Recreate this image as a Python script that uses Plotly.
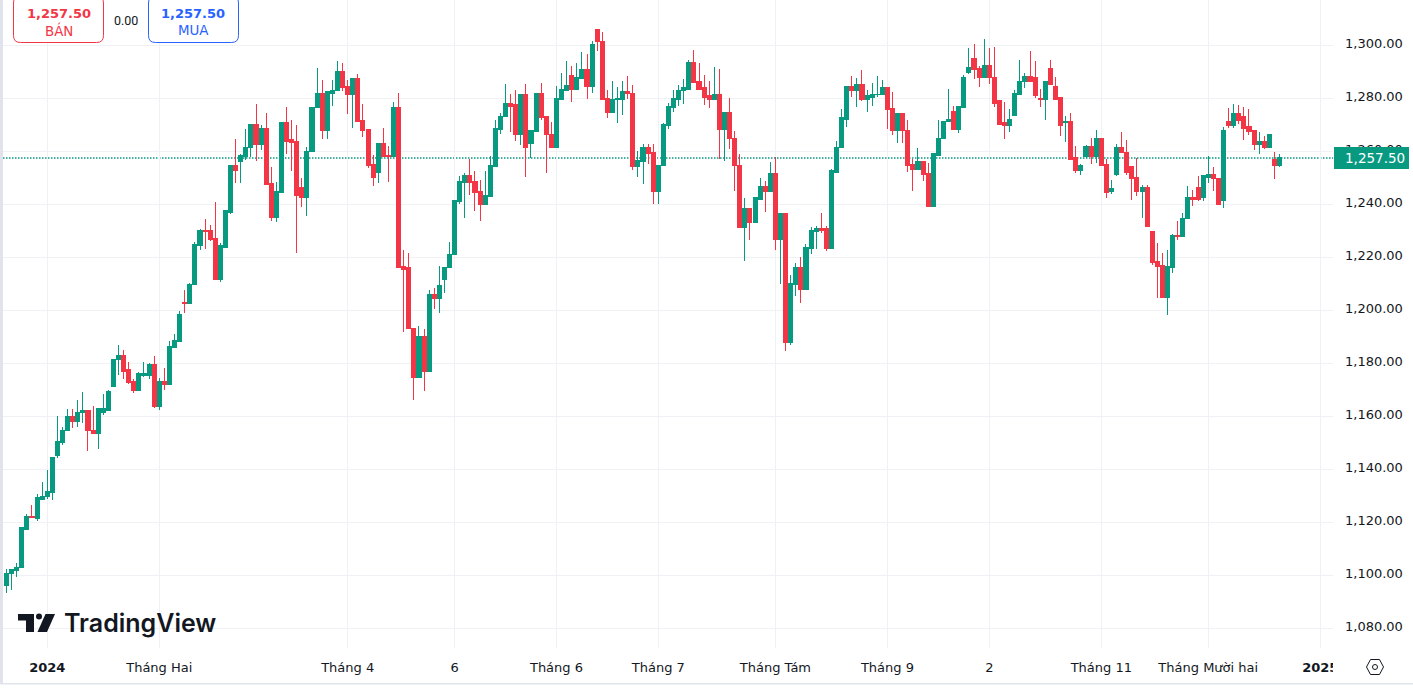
import plotly.graph_objects as go

# ---------- values ----------
OPEN = [
1096.1,1100.6,1102.0,1102.8,1117.5,1122.4,1121.6,1128.8,1129.6,1131.4,
1145.4,1150.3,1154.5,1160.1,1158.2,1161.3,1162.4,1154.8,1153.7,1161.6,
1162.4,1171.1,1181.3,1183.1,1177.5,1173.0,1169.9,1175.6,1175.6,1179.7,
1163.9,1173.3,1172.2,1185.8,1188.4,1203.1,1202.4,1209.6,1224.6,1230.3,
1230.3,1227.3,1211.8,1223.9,1237.1,1254.8,1256.3,1258.2,1261.3,1270.3,
1262.4,1268.8,1247.7,1235.2,1244.6,1270.7,1264.3,1263.9,1246.5,1242.4,
1259.8,1276.4,1282.0,1267.7,1282.0,1282.8,1290.3,1284.3,1281.3,1287.3,
1271.8,1268.4,1255.2,1252.2,1263.1,1258.6,1257.9,1276.7,1216.7,1216.0,
1193.3,1174.5,1190.3,1177.1,1205.8,1204.6,1211.8,1216.0,1220.9,1241.2,
1248.4,1250.7,1248.8,1245.0,1240.1,1243.1,1254.1,1268.4,1273.0,1277.9,
1277.5,1266.5,1281.3,1263.1,1267.3,1282.0,1273.0,1266.5,1261.6,1279.7,
1283.1,1288.8,1283.5,1287.3,1290.7,1284.3,1305.8,1301.6,1280.1,1274.5,
1279.7,1279.7,1282.4,1282.0,1254.1,1256.3,1261.3,1259.4,1245.0,1254.5,
1269.6,1276.7,1279.7,1282.8,1283.5,1293.7,1286.2,1283.9,1280.9,1279.7,
1281.3,1268.4,1274.5,1265.0,1254.8,1231.4,1238.6,1233.0,1242.0,1246.9,
1245.0,1251.8,1226.9,1236.7,1187.7,1209.9,1216.0,1208.0,1223.5,1229.6,
1230.7,1230.7,1223.5,1252.2,1261.3,1272.2,1284.3,1282.8,1285.4,1279.7,
1280.5,1281.3,1281.3,1283.9,1276.0,1268.0,1274.1,1268.0,1255.2,1253.0,
1256.3,1251.8,1239.0,1258.6,1264.7,1271.1,1275.2,1268.4,1276.7,1289.9,
1295.2,1291.1,1287.7,1292.2,1288.0,1279.0,1270.7,1269.6,1273.7,1281.6,
1286.2,1288.4,1288.0,1280.1,1279.4,1291.4,1284.3,1280.5,1270.7,1271.4,
1257.5,1252.6,1257.9,1262.0,1258.2,1264.7,1255.2,1244.7,1251.1,1261.6,
1259.7,1254.1,1250.3,1244.7,1246.2,1229.6,1218.6,1217.1,1205.0,1216.3,
1228.4,1228.0,1234.5,1242.4,1246.5,1242.4,1250.3,1251.4,1249.9,1241.6,
1271.1,1269.9,1274.1,1273.3,1269.2,1267.7,1262.4,1263.9,1261.6,1257.1,
1254.5]
HIGH = [
1102.4,1102.4,1104.5,1118.2,1123.1,1126.5,1130.7,1135.2,1139.7,1144.3,
1160.1,1156.0,1162.8,1162.8,1166.2,1169.2,1162.4,1163.9,1163.1,1168.4,
1169.9,1181.6,1186.9,1185.0,1180.5,1174.1,1176.7,1180.5,1180.1,1182.8,
1174.5,1178.2,1188.4,1191.1,1199.7,1207.7,1210.3,1225.8,1230.7,1234.5,
1232.2,1240.9,1225.4,1237.9,1254.8,1264.7,1259.0,1268.4,1270.3,1277.9,
1270.0,1274.5,1254.1,1248.4,1270.7,1276.7,1271.8,1270.0,1250.0,1261.6,
1276.7,1291.4,1286.9,1282.8,1286.9,1294.1,1293.3,1286.9,1287.3,1289.2,
1277.9,1268.4,1258.6,1263.1,1268.8,1262.0,1278.6,1282.0,1222.8,1221.6,
1193.3,1194.1,1193.0,1207.7,1208.4,1216.7,1216.3,1225.8,1241.6,1250.7,
1251.8,1257.1,1252.6,1249.2,1252.6,1258.2,1271.8,1274.5,1285.4,1281.6,
1283.1,1281.3,1285.4,1267.7,1282.0,1285.8,1273.0,1271.1,1284.7,1289.6,
1294.1,1292.2,1293.3,1297.5,1296.7,1301.6,1306.2,1305.0,1283.1,1286.5,
1284.3,1286.5,1288.4,1285.0,1260.1,1262.8,1262.8,1262.8,1254.8,1270.7,
1278.2,1283.1,1285.0,1287.3,1294.5,1298.2,1293.3,1288.8,1286.5,1291.8,
1291.1,1274.8,1280.1,1267.7,1259.0,1242.4,1238.6,1242.4,1250.0,1248.8,
1256.0,1257.9,1236.7,1236.7,1213.3,1217.9,1220.1,1225.0,1231.4,1231.8,
1236.7,1231.8,1253.3,1263.9,1276.0,1284.3,1288.4,1287.7,1290.7,1283.1,
1285.8,1288.4,1286.9,1283.9,1282.4,1274.5,1274.1,1271.8,1257.1,1261.3,
1256.3,1255.6,1259.0,1271.8,1271.4,1283.5,1277.1,1277.1,1288.8,1299.0,
1300.5,1292.2,1302.4,1299.0,1299.4,1279.4,1278.6,1276.0,1283.1,1294.5,
1289.6,1297.9,1294.1,1283.5,1286.5,1294.5,1288.0,1280.5,1273.3,1274.5,
1262.0,1255.2,1262.4,1265.0,1268.0,1264.7,1257.1,1249.2,1262.8,1267.3,
1264.3,1254.1,1257.5,1247.3,1247.3,1229.6,1225.4,1221.6,1222.8,1228.8,
1233.7,1236.7,1246.9,1245.4,1250.7,1251.1,1258.2,1254.1,1249.9,1269.2,
1276.4,1277.9,1277.5,1276.7,1276.0,1267.7,1267.3,1265.8,1266.5,1259.7,
1259.0]
LOW = [
1093.4,1094.5,1099.4,1102.8,1117.5,1122.0,1120.5,1128.8,1128.8,1128.4,
1144.3,1149.2,1154.5,1155.6,1156.0,1157.5,1146.9,1153.7,1147.7,1160.5,
1162.4,1171.1,1175.6,1174.1,1172.2,1168.8,1169.9,1174.8,1174.1,1163.1,
1162.4,1169.9,1172.2,1185.8,1188.4,1199.0,1202.4,1209.6,1222.8,1223.1,
1226.2,1211.8,1210.7,1223.9,1236.4,1248.0,1248.0,1256.7,1257.9,1256.3,
1260.5,1247.3,1233.7,1233.3,1244.6,1259.0,1252.6,1221.6,1239.0,1235.6,
1259.8,1276.4,1264.7,1264.7,1277.1,1282.8,1282.8,1274.1,1268.8,1271.4,
1265.4,1253.7,1246.9,1248.0,1258.2,1248.4,1257.9,1216.3,1191.8,1193.0,
1166.1,1174.5,1169.5,1177.1,1200.5,1199.0,1206.5,1216.0,1220.9,1240.1,
1234.8,1243.5,1237.5,1233.7,1240.1,1243.1,1254.1,1266.5,1273.0,1267.3,
1263.9,1262.4,1250.3,1257.5,1267.3,1271.8,1251.8,1261.6,1261.6,1279.7,
1283.1,1278.6,1283.1,1287.3,1279.7,1282.0,1297.9,1279.7,1272.6,1274.5,
1270.7,1273.7,1279.7,1253.0,1250.3,1247.7,1255.2,1240.1,1240.1,1254.5,
1268.4,1274.8,1277.1,1277.9,1283.5,1285.8,1283.5,1277.5,1276.4,1279.4,
1257.1,1256.3,1260.9,1245.0,1231.4,1218.6,1226.5,1233.0,1242.0,1237.1,
1245.0,1222.8,1209.9,1184.6,1186.9,1205.4,1202.8,1208.0,1221.3,1223.1,
1229.2,1222.4,1223.5,1252.2,1261.3,1269.2,1280.5,1276.7,1279.0,1274.8,
1277.1,1280.5,1281.3,1268.4,1266.2,1263.1,1263.1,1252.2,1245.0,1253.0,
1248.8,1239.0,1239.0,1258.2,1264.7,1271.1,1268.0,1266.9,1276.7,1289.2,
1287.3,1284.3,1287.7,1285.4,1276.7,1270.3,1264.7,1267.3,1273.3,1281.6,
1283.9,1286.2,1280.1,1276.7,1271.8,1285.4,1279.7,1265.8,1263.5,1257.1,
1251.8,1251.0,1257.5,1255.2,1255.6,1254.5,1242.4,1243.9,1250.7,1259.4,
1251.1,1241.6,1243.1,1234.8,1231.8,1217.1,1204.6,1205.0,1198.2,1214.1,
1226.5,1228.0,1234.5,1239.4,1241.3,1241.3,1248.0,1245.0,1240.1,1238.6,
1268.8,1268.8,1270.3,1264.3,1266.2,1260.5,1259.0,1260.9,1261.6,1249.6,
1254.1]
CLOSE = [
1100.9,1102.4,1103.0,1117.9,1122.4,1122.0,1129.2,1129.9,1131.8,1144.3,
1150.7,1154.8,1160.1,1158.2,1161.6,1162.4,1154.5,1153.7,1163.1,1162.8,
1169.2,1181.6,1183.1,1177.1,1172.6,1169.9,1176.0,1176.0,1179.7,1163.9,
1173.3,1172.2,1186.2,1188.8,1198.6,1202.4,1209.9,1225.0,1230.3,1229.9,
1226.9,1211.8,1224.3,1237.5,1254.8,1252.6,1258.6,1261.6,1270.3,1262.4,
1268.8,1247.3,1235.2,1245.0,1270.7,1263.9,1263.5,1243.5,1242.4,1260.1,
1276.7,1282.0,1267.7,1282.4,1283.1,1290.3,1283.9,1281.3,1287.3,1271.4,
1268.0,1254.8,1250.3,1263.1,1258.2,1258.2,1276.7,1216.3,1215.6,1193.0,
1174.5,1190.3,1177.1,1205.8,1204.6,1209.5,1216.3,1221.2,1241.6,1248.8,
1250.7,1248.4,1244.6,1240.1,1243.5,1254.5,1268.8,1273.3,1277.9,1277.1,
1266.5,1281.3,1261.6,1267.7,1282.0,1272.6,1266.2,1261.6,1280.1,1283.5,
1284.7,1283.5,1287.7,1290.7,1284.3,1300.5,1301.3,1279.7,1274.5,1279.7,
1280.1,1282.4,1282.0,1254.1,1256.7,1261.3,1259.0,1245.0,1254.8,1270.0,
1277.1,1280.1,1283.1,1283.9,1293.7,1285.8,1283.5,1280.5,1279.7,1281.3,
1268.4,1274.5,1264.7,1254.5,1231.4,1238.6,1233.0,1242.4,1246.9,1245.0,
1251.8,1226.9,1236.7,1187.7,1210.3,1216.0,1208.0,1223.9,1230.3,1230.7,
1230.3,1223.5,1252.6,1261.6,1272.6,1284.3,1282.8,1285.4,1279.7,1280.9,
1281.6,1281.6,1283.9,1275.6,1268.0,1274.1,1267.7,1254.8,1253.0,1256.3,
1251.4,1239.0,1259.0,1265.0,1271.4,1272.2,1268.4,1277.1,1287.7,1291.8,
1290.7,1287.7,1292.2,1287.7,1277.9,1270.3,1269.6,1272.2,1282.0,1286.5,
1288.4,1286.2,1280.9,1279.4,1286.5,1285.4,1279.7,1269.6,1271.1,1257.1,
1252.6,1254.8,1262.0,1258.2,1264.7,1254.8,1244.6,1245.8,1261.6,1259.4,
1252.2,1249.9,1244.7,1246.2,1231.8,1218.2,1216.7,1205.0,1216.7,1228.4,
1228.0,1234.8,1242.4,1242.0,1242.0,1250.7,1251.4,1249.6,1240.1,1267.7,
1269.9,1274.1,1271.8,1268.8,1267.3,1262.4,1263.9,1261.6,1266.2,1254.5,
1257.5]
TICK_INDEX = [8, 30, 67, 88, 108, 128, 151, 173, 193, 215, 236, 258]
TICK_TEXT = ["<b>2024</b>", "Tháng Hai", "Tháng 4", "6", "Tháng 6", "Tháng 7",
             "Tháng Tám", "Tháng 9", "2", "Tháng 11", "Tháng Mười hai", "<b>2025</b>"]
PRICE_TICKS = [1080, 1100, 1120, 1140, 1160, 1180, 1200, 1220, 1240, 1260, 1280, 1300]
LAST_PRICE = 1257.50
SPREAD = "0.00"
SELL_LABEL = "BÁN"
BUY_LABEL = "MUA"
BRAND = "TradingView"

assert len(OPEN) == len(HIGH) == len(LOW) == len(CLOSE) == 251

# ---------- style / layout ----------
W, H = 1413, 689
L_PX, R_PX, T_PX, B_PX = 3, 1333, 0, 648
UP, DOWN = "#089981", "#f23645"
GRID = "#f0f1f4"
INK = "#131722"
FONT = "'DejaVu Sans', sans-serif"


def fx(px):
    return (px - L_PX) / (R_PX - L_PX)


def fy(py):
    return (B_PX - py) / (B_PX - T_PX)


def paper_path(points, close=True):
    d = "M" + " L".join(f"{fx(a):.5f},{fy(b):.5f}" for a, b in points)
    return d + (" Z" if close else "")


def rounded(x0, y0, x1, y1, r):
    return (f"M{fx(x0+r):.5f},{fy(y0):.5f} L{fx(x1-r):.5f},{fy(y0):.5f} "
            f"Q{fx(x1):.5f},{fy(y0):.5f} {fx(x1):.5f},{fy(y0+r):.5f} "
            f"L{fx(x1):.5f},{fy(y1-r):.5f} Q{fx(x1):.5f},{fy(y1):.5f} {fx(x1-r):.5f},{fy(y1):.5f} "
            f"L{fx(x0+r):.5f},{fy(y1):.5f} Q{fx(x0):.5f},{fy(y1):.5f} {fx(x0):.5f},{fy(y1-r):.5f} "
            f"L{fx(x0):.5f},{fy(y0+r):.5f} Q{fx(x0):.5f},{fy(y0):.5f} {fx(x0+r):.5f},{fy(y0):.5f} Z")


def prect(x0, y0, x1, y1, color, layer="above"):
    return dict(type="rect", xref="paper", yref="paper", x0=fx(x0), x1=fx(x1), y0=fy(y1), y1=fy(y0),
                fillcolor=color, line_width=0, layer=layer)


fig = go.Figure(go.Candlestick(
    x=list(range(len(OPEN))), open=OPEN, high=HIGH, low=LOW, close=CLOSE,
    increasing=dict(line=dict(color=UP, width=1), fillcolor=UP),
    decreasing=dict(line=dict(color=DOWN, width=1), fillcolor=DOWN),
    whiskerwidth=0, showlegend=False, hoverinfo="skip",
))

shapes = [
    # dotted last-price line
    dict(type="line", xref="paper", yref="y", x0=0, x1=1, y0=LAST_PRICE, y1=LAST_PRICE,
         line=dict(color=UP, width=1.6, dash="1.5px,1.5px"), layer="below"),
    # backdrop behind the buttons
    prect(3, 0, 244, 44, "#ffffff", "below"),
    # window chrome
    prect(0, 0, 3, 684, "#e0e3eb"),
    prect(0, 683, W, 684.5, "#e0e3eb"),
    # clip the right-most time label at the price scale
    prect(R_PX, 650, 1362, 682, "#ffffff"),
    # last-price tag
    prect(1334, 147, 1409, 169, UP),
    # buttons
    dict(type="path", xref="paper", yref="paper", path=rounded(13.5, -4, 103.5, 42.5, 7),
         fillcolor="#ffffff", line=dict(color=DOWN, width=1), layer="above"),
    dict(type="path", xref="paper", yref="paper", path=rounded(148.5, -4, 238.5, 42.5, 7),
         fillcolor="#ffffff", line=dict(color="#2962ff", width=1), layer="above"),
    # logo mark
    dict(type="path", xref="paper", yref="paper",
         path=paper_path([(18, 614), (34, 614), (34, 632), (26, 632), (26, 620.5), (18, 620.5)]),
         fillcolor=INK, line_width=0, layer="above"),
    dict(type="circle", xref="paper", yref="paper", x0=fx(36), x1=fx(42), y0=fy(619.5), y1=fy(613.5),
         fillcolor=INK, line_width=0, layer="above"),
    dict(type="path", xref="paper", yref="paper",
         path=paper_path([(45.5, 614), (55, 614), (47, 632), (37.5, 632)]),
         fillcolor=INK, line_width=0, layer="above"),
    # settings icon
    dict(type="path", xref="paper", yref="paper",
         path=paper_path([(1366.5, 667), (1370.5, 659.5), (1379.5, 659.5), (1383.5, 667),
                          (1379.5, 674.5), (1370.5, 674.5)]),
         line=dict(color=INK, width=1), fillcolor="rgba(0,0,0,0)", layer="above"),
    dict(type="circle", xref="paper", yref="paper", x0=fx(1372.5), x1=fx(1377.5), y0=fy(669.5), y1=fy(664.5),
         line=dict(color=INK, width=1), layer="above"),
]


def note(text, cx, cy, color, size, **kw):
    return dict(text=text, xref="paper", yref="paper", x=fx(cx), y=fy(cy), showarrow=False,
                xanchor="center", yanchor="middle",
                font=dict(color=color, size=size, family=kw.pop("family", FONT), weight=kw.pop("weight", 400)),
                **kw)


price_text = f"{LAST_PRICE:,.2f}"
annotations = [
    note(price_text, 58.5, 13.5, DOWN, 13, weight=700),
    note(SELL_LABEL, 58.5, 31, DOWN, 13.4),
    note(SPREAD, 126, 20, INK, 12.5, family="Roboto, sans-serif"),
    note(price_text, 193.5, 13.5, "#2962ff", 13, weight=700),
    note(BUY_LABEL, 193.5, 31, "#2962ff", 13.4),
    note(BRAND, 139.5, 622.5, INK, 25, family="Inter, sans-serif", weight=600),
    note(price_text, 1375, 157.5, "#ffffff", 13.5),
]

fig.update_layout(
    width=W, height=H, autosize=False,
    margin=dict(l=L_PX, r=W - R_PX, t=T_PX, b=H - B_PX, pad=0),
    paper_bgcolor="#ffffff", plot_bgcolor="#ffffff",
    boxgap=0.2, boxgroupgap=0,
    font=dict(family=FONT, size=13, color=INK),
    shapes=shapes, annotations=annotations, showlegend=False,
    xaxis=dict(range=[-0.687, 260.5], tickmode="array", tickvals=TICK_INDEX, ticktext=TICK_TEXT,
               rangeslider=dict(visible=False), showgrid=True, gridcolor=GRID, gridwidth=1,
               zeroline=False, showline=False, ticks="", ticklabelstandoff=10,
               tickfont=dict(size=13, color=INK, family=FONT), tickangle=0, fixedrange=True),
    yaxis=dict(range=[1072.6, 1317.1], side="right", tickmode="array", tickvals=PRICE_TICKS,
               tickformat=",.2f", showgrid=True, gridcolor=GRID, gridwidth=1,
               zeroline=False, showline=False, ticks="", ticklabelstandoff=11, ticklabelshift=-2,
               tickfont=dict(size=13, color=INK, family=FONT), fixedrange=True),
)

crisp = ("var s=document.createElement('style');"
         "s.textContent='.boxlayer path{shape-rendering:crispEdges !important}';"
         "document.head.appendChild(s);"
         "document.body.style.margin='0';document.body.style.overflow='hidden';")
fig.write_html("out.html", config=dict(displayModeBar=False), post_script=crisp)
